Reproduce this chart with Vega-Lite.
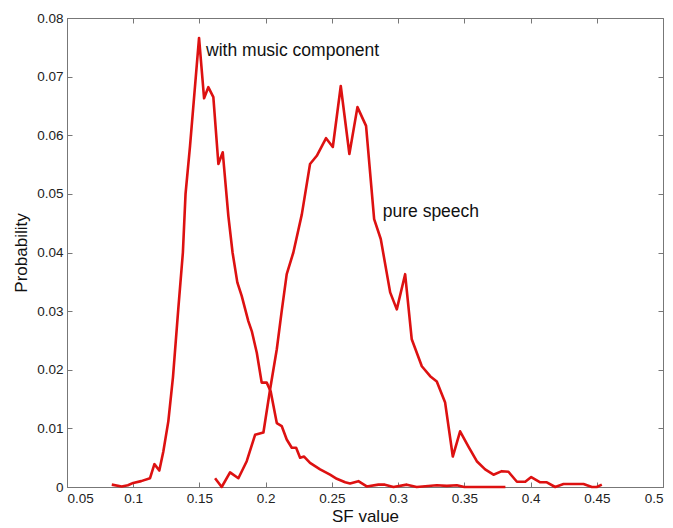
{
  "$schema": "https://vega.github.io/schema/vega-lite/v6.json",
  "width": 596,
  "height": 469,
  "autosize": {"type": "none"},
  "padding": {"left": 67, "top": 18, "right": 10, "bottom": 41},
  "background": "white",
  "config": {
    "view": {"stroke": "#777", "strokeWidth": 1},
    "font": "Liberation Sans",
    "axis": {
      "grid": false,
      "domainColor": "#777",
      "tickColor": "#777",
      "tickSize": -5,
      "labelFont": "Liberation Sans",
      "labelFontSize": 13.5,
      "labelColor": "#222",
      "titleFont": "Liberation Sans",
      "titleFontSize": 17,
      "titleFontWeight": "normal",
      "titleColor": "#111"
    }
  },
  "datasets": {
    "curves": [
      {"series": "music", "sf": 0.0838, "p": 0.0004},
      {"series": "music", "sf": 0.0913, "p": 0.0001},
      {"series": "music", "sf": 0.0960, "p": 0.0003},
      {"series": "music", "sf": 0.1000, "p": 0.0007},
      {"series": "music", "sf": 0.1060, "p": 0.0010},
      {"series": "music", "sf": 0.1127, "p": 0.0015},
      {"series": "music", "sf": 0.1160, "p": 0.0039},
      {"series": "music", "sf": 0.1197, "p": 0.0028},
      {"series": "music", "sf": 0.1227, "p": 0.0060},
      {"series": "music", "sf": 0.1265, "p": 0.0112},
      {"series": "music", "sf": 0.1300, "p": 0.0187},
      {"series": "music", "sf": 0.1340, "p": 0.0303},
      {"series": "music", "sf": 0.1375, "p": 0.0400},
      {"series": "music", "sf": 0.1395, "p": 0.0500},
      {"series": "music", "sf": 0.1429, "p": 0.0582},
      {"series": "music", "sf": 0.1497, "p": 0.0766},
      {"series": "music", "sf": 0.1535, "p": 0.0663},
      {"series": "music", "sf": 0.1567, "p": 0.0682},
      {"series": "music", "sf": 0.1605, "p": 0.0665},
      {"series": "music", "sf": 0.1643, "p": 0.0551},
      {"series": "music", "sf": 0.1676, "p": 0.0571},
      {"series": "music", "sf": 0.1718, "p": 0.0463},
      {"series": "music", "sf": 0.1750, "p": 0.0400},
      {"series": "music", "sf": 0.1786, "p": 0.0349},
      {"series": "music", "sf": 0.1819, "p": 0.0326},
      {"series": "music", "sf": 0.1869, "p": 0.0283},
      {"series": "music", "sf": 0.1895, "p": 0.0266},
      {"series": "music", "sf": 0.1933, "p": 0.0229},
      {"series": "music", "sf": 0.1970, "p": 0.0178},
      {"series": "music", "sf": 0.2008, "p": 0.0178},
      {"series": "music", "sf": 0.2038, "p": 0.0163},
      {"series": "music", "sf": 0.2084, "p": 0.0109},
      {"series": "music", "sf": 0.2121, "p": 0.0104},
      {"series": "music", "sf": 0.2159, "p": 0.0081},
      {"series": "music", "sf": 0.2197, "p": 0.0067},
      {"series": "music", "sf": 0.2230, "p": 0.0067},
      {"series": "music", "sf": 0.2260, "p": 0.0050},
      {"series": "music", "sf": 0.2290, "p": 0.0052},
      {"series": "music", "sf": 0.2335, "p": 0.0041},
      {"series": "music", "sf": 0.2411, "p": 0.0030},
      {"series": "music", "sf": 0.2486, "p": 0.0021},
      {"series": "music", "sf": 0.2537, "p": 0.0014},
      {"series": "music", "sf": 0.2600, "p": 0.0008},
      {"series": "music", "sf": 0.2637, "p": 0.0006},
      {"series": "music", "sf": 0.2700, "p": 0.0010},
      {"series": "music", "sf": 0.2763, "p": 0.0001},
      {"series": "music", "sf": 0.2851, "p": 0.0004},
      {"series": "music", "sf": 0.2900, "p": 0.0004},
      {"series": "music", "sf": 0.2965, "p": 0.0000},
      {"series": "music", "sf": 0.3066, "p": 0.0004},
      {"series": "music", "sf": 0.3140, "p": 0.0000},
      {"series": "music", "sf": 0.3292, "p": 0.0003},
      {"series": "music", "sf": 0.3368, "p": 0.0002},
      {"series": "music", "sf": 0.3443, "p": 0.0003},
      {"series": "music", "sf": 0.3500, "p": 0.0000},
      {"series": "music", "sf": 0.3810, "p": 0.0000},
      {"series": "speech", "sf": 0.1618, "p": 0.0015},
      {"series": "speech", "sf": 0.1668, "p": 0.0000},
      {"series": "speech", "sf": 0.1731, "p": 0.0025},
      {"series": "speech", "sf": 0.1794, "p": 0.0015},
      {"series": "speech", "sf": 0.1857, "p": 0.0044},
      {"series": "speech", "sf": 0.1920, "p": 0.0089},
      {"series": "speech", "sf": 0.1983, "p": 0.0093},
      {"series": "speech", "sf": 0.2033, "p": 0.0166},
      {"series": "speech", "sf": 0.2084, "p": 0.0235},
      {"series": "speech", "sf": 0.2121, "p": 0.0300},
      {"series": "speech", "sf": 0.2159, "p": 0.0363},
      {"series": "speech", "sf": 0.2209, "p": 0.0400},
      {"series": "speech", "sf": 0.2273, "p": 0.0465},
      {"series": "speech", "sf": 0.2335, "p": 0.0551},
      {"series": "speech", "sf": 0.2386, "p": 0.0565},
      {"series": "speech", "sf": 0.2456, "p": 0.0595},
      {"series": "speech", "sf": 0.2507, "p": 0.0580},
      {"series": "speech", "sf": 0.2567, "p": 0.0684},
      {"series": "speech", "sf": 0.2632, "p": 0.0568},
      {"series": "speech", "sf": 0.2693, "p": 0.0648},
      {"series": "speech", "sf": 0.2758, "p": 0.0616},
      {"series": "speech", "sf": 0.2819, "p": 0.0457},
      {"series": "speech", "sf": 0.2869, "p": 0.0423},
      {"series": "speech", "sf": 0.2940, "p": 0.0332},
      {"series": "speech", "sf": 0.2990, "p": 0.0303},
      {"series": "speech", "sf": 0.3053, "p": 0.0363},
      {"series": "speech", "sf": 0.3103, "p": 0.0252},
      {"series": "speech", "sf": 0.3179, "p": 0.0206},
      {"series": "speech", "sf": 0.3242, "p": 0.0189},
      {"series": "speech", "sf": 0.3292, "p": 0.0180},
      {"series": "speech", "sf": 0.3355, "p": 0.0144},
      {"series": "speech", "sf": 0.3413, "p": 0.0052},
      {"series": "speech", "sf": 0.3468, "p": 0.0095},
      {"series": "speech", "sf": 0.3531, "p": 0.0069},
      {"series": "speech", "sf": 0.3594, "p": 0.0044},
      {"series": "speech", "sf": 0.3657, "p": 0.0030},
      {"series": "speech", "sf": 0.3720, "p": 0.0021},
      {"series": "speech", "sf": 0.3783, "p": 0.0027},
      {"series": "speech", "sf": 0.3833, "p": 0.0026},
      {"series": "speech", "sf": 0.3897, "p": 0.0009},
      {"series": "speech", "sf": 0.3960, "p": 0.0009},
      {"series": "speech", "sf": 0.4005, "p": 0.0017},
      {"series": "speech", "sf": 0.4073, "p": 0.0008},
      {"series": "speech", "sf": 0.4123, "p": 0.0008},
      {"series": "speech", "sf": 0.4186, "p": 0.0000},
      {"series": "speech", "sf": 0.4249, "p": 0.0005},
      {"series": "speech", "sf": 0.4400, "p": 0.0005},
      {"series": "speech", "sf": 0.4463, "p": 0.0000},
      {"series": "speech", "sf": 0.4500, "p": 0.0000},
      {"series": "speech", "sf": 0.4538, "p": 0.0004}
    ],
    "notes": [
      {"sf": 0.1550, "p": 0.0736, "label": "with music component"},
      {"sf": 0.2884, "p": 0.0460, "label": "pure speech"}
    ]
  },
  "layer": [
    {
      "data": {"name": "curves"},
      "mark": {"type": "line", "color": "#dd1111", "strokeWidth": 2.6, "strokeJoin": "round"},
      "encoding": {
        "x": {
          "field": "sf", "type": "quantitative",
          "scale": {"domain": [0.05, 0.5], "nice": false, "zero": false},
          "axis": {"orient": "bottom", "values": [0.05, 0.1, 0.15, 0.2, 0.25, 0.3, 0.35, 0.4, 0.45, 0.5], "format": "~g", "title": "SF value", "labelPadding": 9, "titlePadding": 4}
        },
        "y": {
          "field": "p", "type": "quantitative",
          "scale": {"domain": [0, 0.08], "nice": false},
          "axis": {"orient": "left", "values": [0, 0.01, 0.02, 0.03, 0.04, 0.05, 0.06, 0.07, 0.08], "format": "~g", "title": "Probability", "labelPadding": 9, "titlePadding": 6}
        },
        "detail": {"field": "series"}
      }
    },
    {
      "data": {"name": "notes"},
      "mark": {"type": "text", "align": "left", "baseline": "alphabetic", "font": "Liberation Sans", "fontSize": 17.5, "color": "#111"},
      "encoding": {
        "x": {"field": "sf", "type": "quantitative", "axis": {"orient": "top", "values": [0.05, 0.1, 0.15, 0.2, 0.25, 0.3, 0.35, 0.4, 0.45, 0.5], "labels": false, "title": null, "domain": false}},
        "y": {"field": "p", "type": "quantitative", "axis": {"orient": "right", "values": [0, 0.01, 0.02, 0.03, 0.04, 0.05, 0.06, 0.07, 0.08], "labels": false, "title": null, "domain": false}},
        "text": {"field": "label"}
      }
    }
  ],
  "resolve": {"axis": {"x": "independent", "y": "independent"}}
}
